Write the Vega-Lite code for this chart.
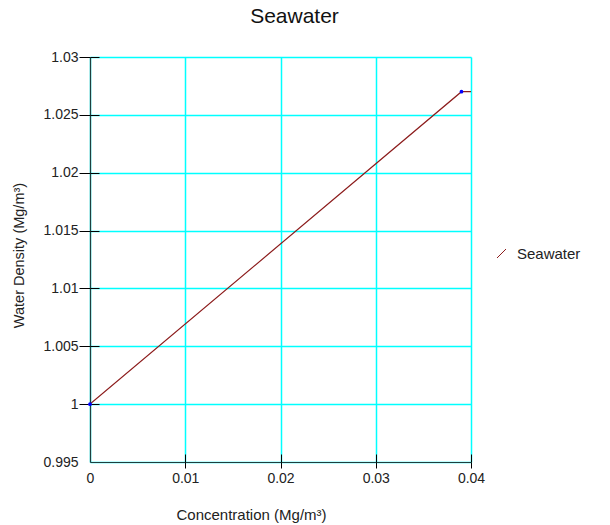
{
  "$schema": "https://vega.github.io/schema/vega-lite/v6.json",
  "autosize": "none",
  "width": 381,
  "height": 405,
  "padding": {"left": 90, "top": 57, "right": 139, "bottom": 63},
  "background": "white",
  "config": {
    "font": "Liberation Sans",
    "view": {"stroke": null},
    "axis": {
      "labelFont": "Liberation Sans",
      "titleFont": "Liberation Sans",
      "labelColor": "#222222",
      "titleColor": "#222222",
      "grid": false,
      "gridColor": "#00ffff",
      "gridOpacity": 1
    }
  },
  "title": {
    "text": "Seawater",
    "font": "Liberation Sans",
    "fontSize": 21,
    "fontWeight": "normal",
    "color": "#111111",
    "anchor": "middle",
    "frame": "group",
    "baseline": "alphabetic",
    "offset": 6,
    "dx": 14
  },
  "data": {
    "values": [
      {"concentration": 0, "density": 1.0, "series": "Seawater", "marker": true},
      {"concentration": 0.039, "density": 1.027, "series": "Seawater", "marker": true},
      {"concentration": 0.04, "density": 1.027, "series": "Seawater", "marker": false}
    ]
  },
  "resolve": {"axis": {"x": "independent", "y": "independent"}},
  "layer": [
    {
      "mark": {"type": "line", "strokeWidth": 1.2, "clip": true},
      "encoding": {
        "x": {
          "field": "concentration",
          "type": "quantitative",
          "scale": {"domain": [0, 0.04], "nice": false, "zero": false},
          "axis": {
            "orient": "bottom",
            "title": "Concentration (Mg/m³)",
            "titleFontSize": 15,
            "titleFontWeight": "normal",
            "titleX": 161,
            "titleY": 57,
            "titleAlign": "center",
            "titleBaseline": "alphabetic",
            "values": [0, 0.01, 0.02, 0.03, 0.04],
            "format": "~g",
            "labelFontSize": 14,
            "labelPadding": 3,
            "labelFlush": false,
            "tickSize": 6,
            "tickColor": "#000000",
            "tickOpacity": {"condition": {"test": "datum.value <= 0", "value": 0}, "value": 1},
            "domainColor": "#1f3f3f",
            "domainWidth": 1.2,
            "grid": true,
            "gridColor": "#00ffff",
            "gridOpacity": 1,
            "gridWidth": 1.5
          }
        },
        "y": {
          "field": "density",
          "type": "quantitative",
          "scale": {"domain": [0.995, 1.03], "nice": false, "zero": false},
          "axis": {
            "orient": "left",
            "title": "Water Density (Mg/m³)",
            "titleFontSize": 14.5,
            "titleFontWeight": "normal",
            "titleX": -67,
            "titleY": 198,
            "titleAngle": -90,
            "titleAlign": "center",
            "titleBaseline": "alphabetic",
            "values": [0.995, 1.0, 1.005, 1.01, 1.015, 1.02, 1.025, 1.03],
            "format": "~g",
            "labelFontSize": 14,
            "labelPadding": 1,
            "labelFlush": false,
            "tickSize": 11,
            "tickColor": "#000000",
            "tickOpacity": {"condition": {"test": "datum.value <= 0.995", "value": 0}, "value": 1},
            "domainColor": "#1f3f3f",
            "domainWidth": 1.2,
            "grid": true,
            "gridColor": "#00ffff",
            "gridOpacity": 1,
            "gridWidth": 1.5
          }
        },
        "color": {
          "field": "series",
          "type": "nominal",
          "scale": {"domain": ["Seawater"], "range": ["#8c1c1c"]},
          "legend": {
            "title": null,
            "orient": "none",
            "legendX": 404,
            "legendY": 189,
            "padding": 0,
            "symbolType": "M-1,1L1,-1",
            "symbolSize": 81,
            "symbolStrokeWidth": 1,
            "labelFont": "Liberation Sans",
            "labelFontSize": 15,
            "labelColor": "#222222",
            "labelOffset": 8
          }
        }
      }
    },
    {
      "transform": [{"filter": "datum.marker"}],
      "mark": {"type": "circle", "size": 14, "color": "#0000ff", "opacity": 1},
      "encoding": {
        "x": {
          "field": "concentration",
          "type": "quantitative",
          "axis": {
            "orient": "bottom",
            "title": null,
            "labels": false,
            "domain": false,
            "grid": false,
            "values": [0, 0.01, 0.02, 0.03, 0.04],
            "tickSize": -8,
            "tickColor": "#000000",
            "tickOpacity": {"condition": {"test": "datum.value <= 0", "value": 0}, "value": 1}
          }
        },
        "y": {
          "field": "density",
          "type": "quantitative",
          "axis": {
            "orient": "left",
            "title": null,
            "labels": false,
            "domain": false,
            "grid": false,
            "values": [0.995, 1.0, 1.005, 1.01, 1.015, 1.02, 1.025, 1.03],
            "tickSize": -9,
            "tickColor": "#000000",
            "tickOpacity": {"condition": {"test": "datum.value <= 0.995", "value": 0}, "value": 1}
          }
        }
      }
    }
  ]
}
